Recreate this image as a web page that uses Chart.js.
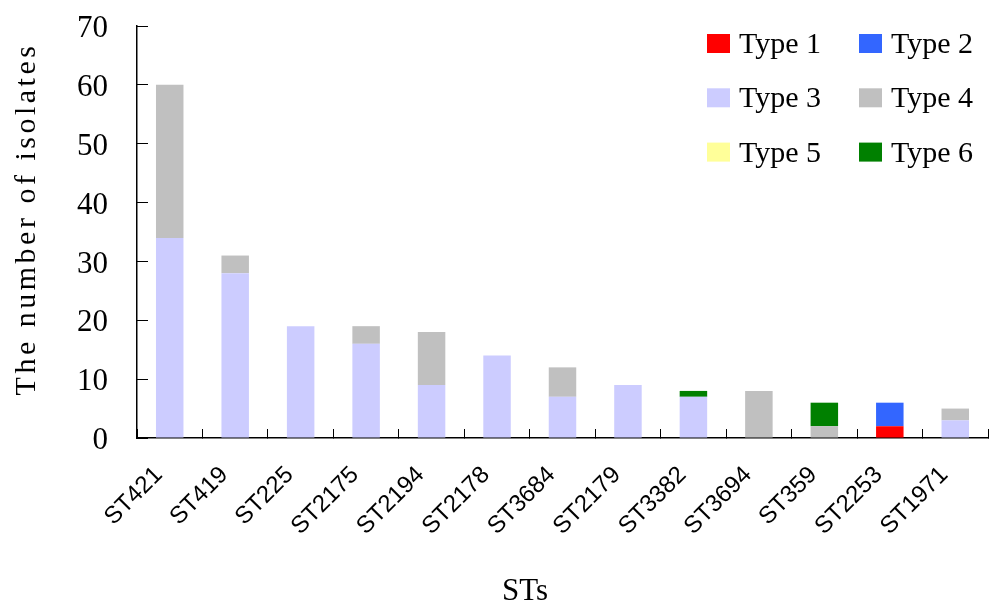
<!DOCTYPE html>
<html>
<head>
<meta charset="utf-8">
<script src="https://cdn.jsdelivr.net/npm/chart.js@4.4.0/dist/chart.umd.min.js"></script>
<style>
  html, body { margin: 0; padding: 0; background: #fff; }
  #wrap { width: 989px; height: 603px; position: relative; }
</style>
</head>
<body>
<div id="wrap"><canvas id="graphique"></canvas></div>
<script>
var categories = ['ST421', 'ST419', 'ST225', 'ST2175', 'ST2194', 'ST2178', 'ST3684',
                  'ST2179', 'ST3382', 'ST3694', 'ST359', 'ST2253', 'ST1971'];
var type1 = [0, 0, 0, 0, 0, 0, 0, 0, 0, 0, 0, 2, 0];
var type2 = [0, 0, 0, 0, 0, 0, 0, 0, 0, 0, 0, 4, 0];
var type3 = [34, 28, 19, 16, 9, 14, 7, 9, 7, 0, 0, 0, 3];
var type4 = [26, 3, 0, 3, 9, 0, 5, 0, 0, 8, 2, 0, 2];
var type5 = [0, 0, 0, 0, 0, 0, 0, 0, 0, 0, 0, 0, 0];
var type6 = [0, 0, 0, 0, 0, 0, 0, 0, 1, 0, 4, 0, 0];
var seriesNames = ['Type 1', 'Type 2', 'Type 3', 'Type 4', 'Type 5', 'Type 6'];
var yTicks = [0, 10, 20, 30, 40, 50, 60, 70];

var colors = ['#FF0000', '#3366FF', '#CCCCFF', '#C0C0C0', '#FFFF99', '#008000'];
var serif = "'Liberation Serif', 'Times New Roman', serif";

// axis titles and 2-column legend drawn over the plot
var extras = {
    id: 'extras',
    afterDraw: function(chart) {
        var ctx = chart.ctx;
        ctx.save();
        ctx.fillStyle = '#000';
        ctx.font = '30px ' + serif;

        // y title, wide letter spacing
        ctx.save();
        ctx.translate(27, 219);
        ctx.rotate(-Math.PI / 2);
        ctx.letterSpacing = '3.5px';
        ctx.textAlign = 'center';
        ctx.textBaseline = 'middle';
        ctx.fillText('The number of isolates', 0, 0);
        ctx.restore();

        // x title
        ctx.font = '31px ' + serif;
        ctx.textAlign = 'center';
        ctx.textBaseline = 'alphabetic';
        ctx.fillText('STs', 525, 600);

        // legend
        ctx.font = '30px ' + serif;
        ctx.textAlign = 'left';
        var colX = [707, 859];
        chart.data.datasets.forEach(function(ds, i) {
            var col = i % 2, row = Math.floor(i / 2);
            var cy = 43.5 + row * 54.3;
            ctx.fillStyle = ds.backgroundColor;
            ctx.fillRect(colX[col], cy - 9.5, 23, 19);
            ctx.fillStyle = '#000';
            ctx.fillText(ds.label, colX[col] + 32, cy + 9.5);
        });
        ctx.restore();
    }
};

var datasets = [type1, type2, type3, type4, type5, type6].map(function(vals, i) {
    return {
        label: seriesNames[i],
        data: vals,
        backgroundColor: colors[i],
        borderWidth: 0,
        categoryPercentage: 1.0,
        barPercentage: 0.42
    };
});

var ctx = document.getElementById('graphique').getContext('2d');
var graphique = new Chart(ctx, {
    type: 'bar',
    data: { labels: categories, datasets: datasets },
    options: {
        responsive: true,
        maintainAspectRatio: false,
        animation: false,
        layout: { padding: { top: 26, right: 1, left: 0, bottom: 0 } },
        plugins: {
            legend: { display: false },
            tooltip: { enabled: false }
        },
        scales: {
            x: {
                stacked: true,
                border: { color: '#000', width: 1.5 },
                grid: { drawOnChartArea: false, offset: true, tickLength: -9, color: '#000', lineWidth: 1 },
                ticks: {
                    autoSkip: false,
                    maxRotation: 45,
                    minRotation: 45,
                    padding: 32,
                    labelOffset: -11,
                    color: '#000',
                    font: { family: "'Liberation Sans', Arial, sans-serif", size: 24 }
                },
                afterFit: function(s) {
                    s.height = 165;
                    s.paddingLeft = 0;
                    s.paddingRight = 0;
                }
            },
            y: {
                stacked: true,
                min: 0,
                max: 70,
                border: { color: '#000', width: 1.5 },
                grid: { drawOnChartArea: false, tickLength: -11, color: '#000', lineWidth: 1 },
                afterBuildTicks: function(s) {
                    s.ticks = yTicks.map(function(v) { return { value: v }; });
                },
                ticks: {
                    padding: 40,
                    labelOffset: 3,
                    color: '#000',
                    font: { family: serif, size: 31 }
                },
                afterFit: function(s) {
                    s.width = 137;
                    s.paddingTop = 0;
                    s.paddingBottom = 0;
                }
            }
        }
    },
    plugins: [extras]
});
</script>
</body>
</html>
